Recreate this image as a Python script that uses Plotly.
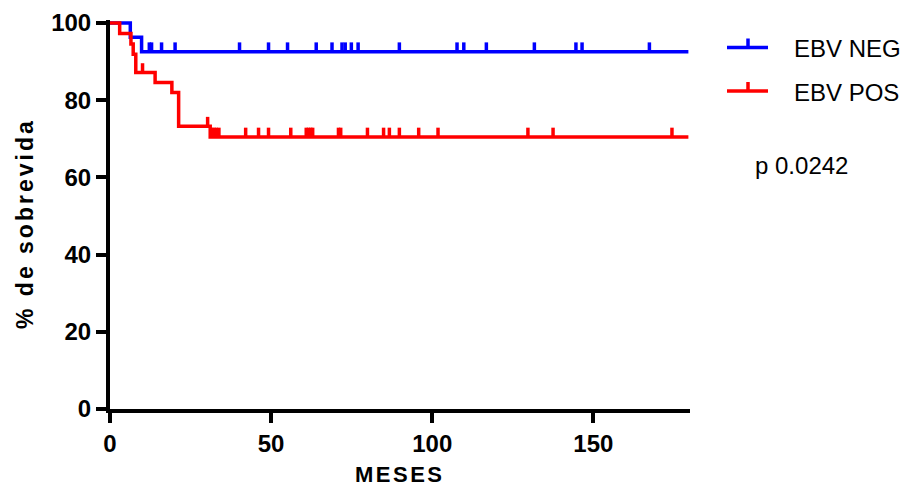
import plotly.graph_objects as go

# ---- data ----
neg_times = [0, 6.3, 9.8]
neg_surv = [100, 96.3, 92.6]
neg_censor = [12.2, 12.9, 16.0, 20.2, 40.2, 49.2, 55.1, 64.0, 68.9, 72.0, 73.0,
              74.9, 77.0, 89.8, 107.7, 109.8, 116.8, 131.7, 144.6, 146.5, 167.4]

pos_times = [0, 3.0, 6.5, 7.2, 8.0, 14.0, 19.2, 21.3, 31.1]
pos_surv = [100, 97.3, 94.6, 91.9, 87.2, 84.6, 82.0, 73.3, 70.5]
pos_censor = [10.1, 30.3, 31.6, 32.3, 33.0, 33.8, 42.1, 46.1, 49.2, 56.1, 60.9,
              61.6, 62.3, 62.9, 70.9, 71.6, 79.9, 84.9, 86.7, 89.8, 95.8, 101.8,
              129.7, 137.5, 174.4]

follow_end = 179.5
x_ticks = [0, 50, 100, 150]
y_ticks = [0, 20, 40, 60, 80, 100]

BLUE = "#0000ff"
RED = "#ff0000"
FONT = "Liberation Sans, Arial, sans-serif"
TICK_H = 2.4  # censor tick height in % units


def surv_at(t, times, surv):
    s = surv[0]
    for ti, si in zip(times, surv):
        if ti <= t:
            s = si
    return s


def add_group(fig, times, surv, censor, color):
    xs = list(times) + [follow_end]
    ys = list(surv) + [surv[-1]]
    fig.add_trace(go.Scatter(x=xs, y=ys, mode="lines", line=dict(color=color, width=3.5, shape="hv"),
                             showlegend=False, hoverinfo="skip"))
    cx, cy = [], []
    for t in censor:
        s = surv_at(t, times, surv)
        cx += [t, t, None]
        cy += [s, s + TICK_H, None]
    fig.add_trace(go.Scatter(x=cx, y=cy, mode="lines", line=dict(color=color, width=3.5),
                             showlegend=False, hoverinfo="skip"))


fig = go.Figure()
add_group(fig, neg_times, neg_surv, neg_censor, BLUE)
add_group(fig, pos_times, pos_surv, pos_censor, RED)

# page body adds an 8px offset; compensate so the plot lands where the reference has it
OFF = 8
SW, SH = 908, 487
W, H = SW - OFF, SH - OFF
PL, PR, PT, PB = 110, 690, 20, 409  # plot area in screen pixels
L, R, T, B = PL - OFF, W - (PR - OFF), PT - OFF, H - (PB - OFF)
pw, ph = PR - PL, PB - PT


def px(xs):
    return (xs - PL) / pw


def py(ys):
    return (PB - ys) / ph


shapes = []
for yc, color in [(47.5, BLUE), (91, RED)]:
    shapes.append(dict(type="line", xref="paper", yref="paper", x0=px(727), x1=px(768),
                       y0=py(yc), y1=py(yc), line=dict(color=color, width=3.5)))
    shapes.append(dict(type="line", xref="paper", yref="paper", x0=px(748), x1=px(748),
                       y0=py(yc), y1=py(yc - 9), line=dict(color=color, width=3.5)))

annotations = [
    dict(text="EBV NEG", x=px(792), y=py(48.5), xref="paper", yref="paper", xanchor="left",
         yanchor="middle", showarrow=False, font=dict(family=FONT, size=24, color="black")),
    dict(text="EBV POS", x=px(792), y=py(92.5), xref="paper", yref="paper", xanchor="left",
         yanchor="middle", showarrow=False, font=dict(family=FONT, size=24, color="black")),
    dict(text="p 0.0242", x=px(753), y=py(165), xref="paper", yref="paper", xanchor="left",
         yanchor="middle", showarrow=False, font=dict(family=FONT, size=24, color="black")),
    dict(text='<span style="letter-spacing:3px">% de sobrevida</span>', x=px(25), y=py(224),
         xref="paper", yref="paper", xanchor="center", yanchor="middle", textangle=-90,
         showarrow=False, font=dict(family=FONT, size=23, color="black", weight="bold")),
    dict(text='<span style="letter-spacing:2.5px">MESES</span>', x=px(400), y=py(474),
         xref="paper", yref="paper", xanchor="center", yanchor="middle",
         showarrow=False, font=dict(family=FONT, size=22, color="black", weight="bold")),
]

fig.update_layout(
    width=W, height=H,
    margin=dict(l=L, r=R, t=T, b=B, pad=0, autoexpand=False),
    paper_bgcolor="white", plot_bgcolor="white",
    shapes=shapes, annotations=annotations,
    showlegend=False,
)
fig.update_xaxes(range=[0, 180], tickvals=x_ticks, ticks="outside", ticklen=10, tickwidth=4,
                 tickcolor="black", showline=True, linewidth=4, linecolor="black",
                 showgrid=False, zeroline=False, automargin=False,
                 tickfont=dict(family=FONT, size=24, color="black", weight="bold"))
fig.update_yaxes(range=[0, 100.8], tickvals=y_ticks, ticks="outside", ticklen=10, tickwidth=4,
                 tickcolor="black", showline=True, linewidth=4, linecolor="black",
                 showgrid=False, zeroline=False, automargin=False,
                 tickfont=dict(family=FONT, size=24, color="black", weight="bold"))

fig.write_html("out.html")
